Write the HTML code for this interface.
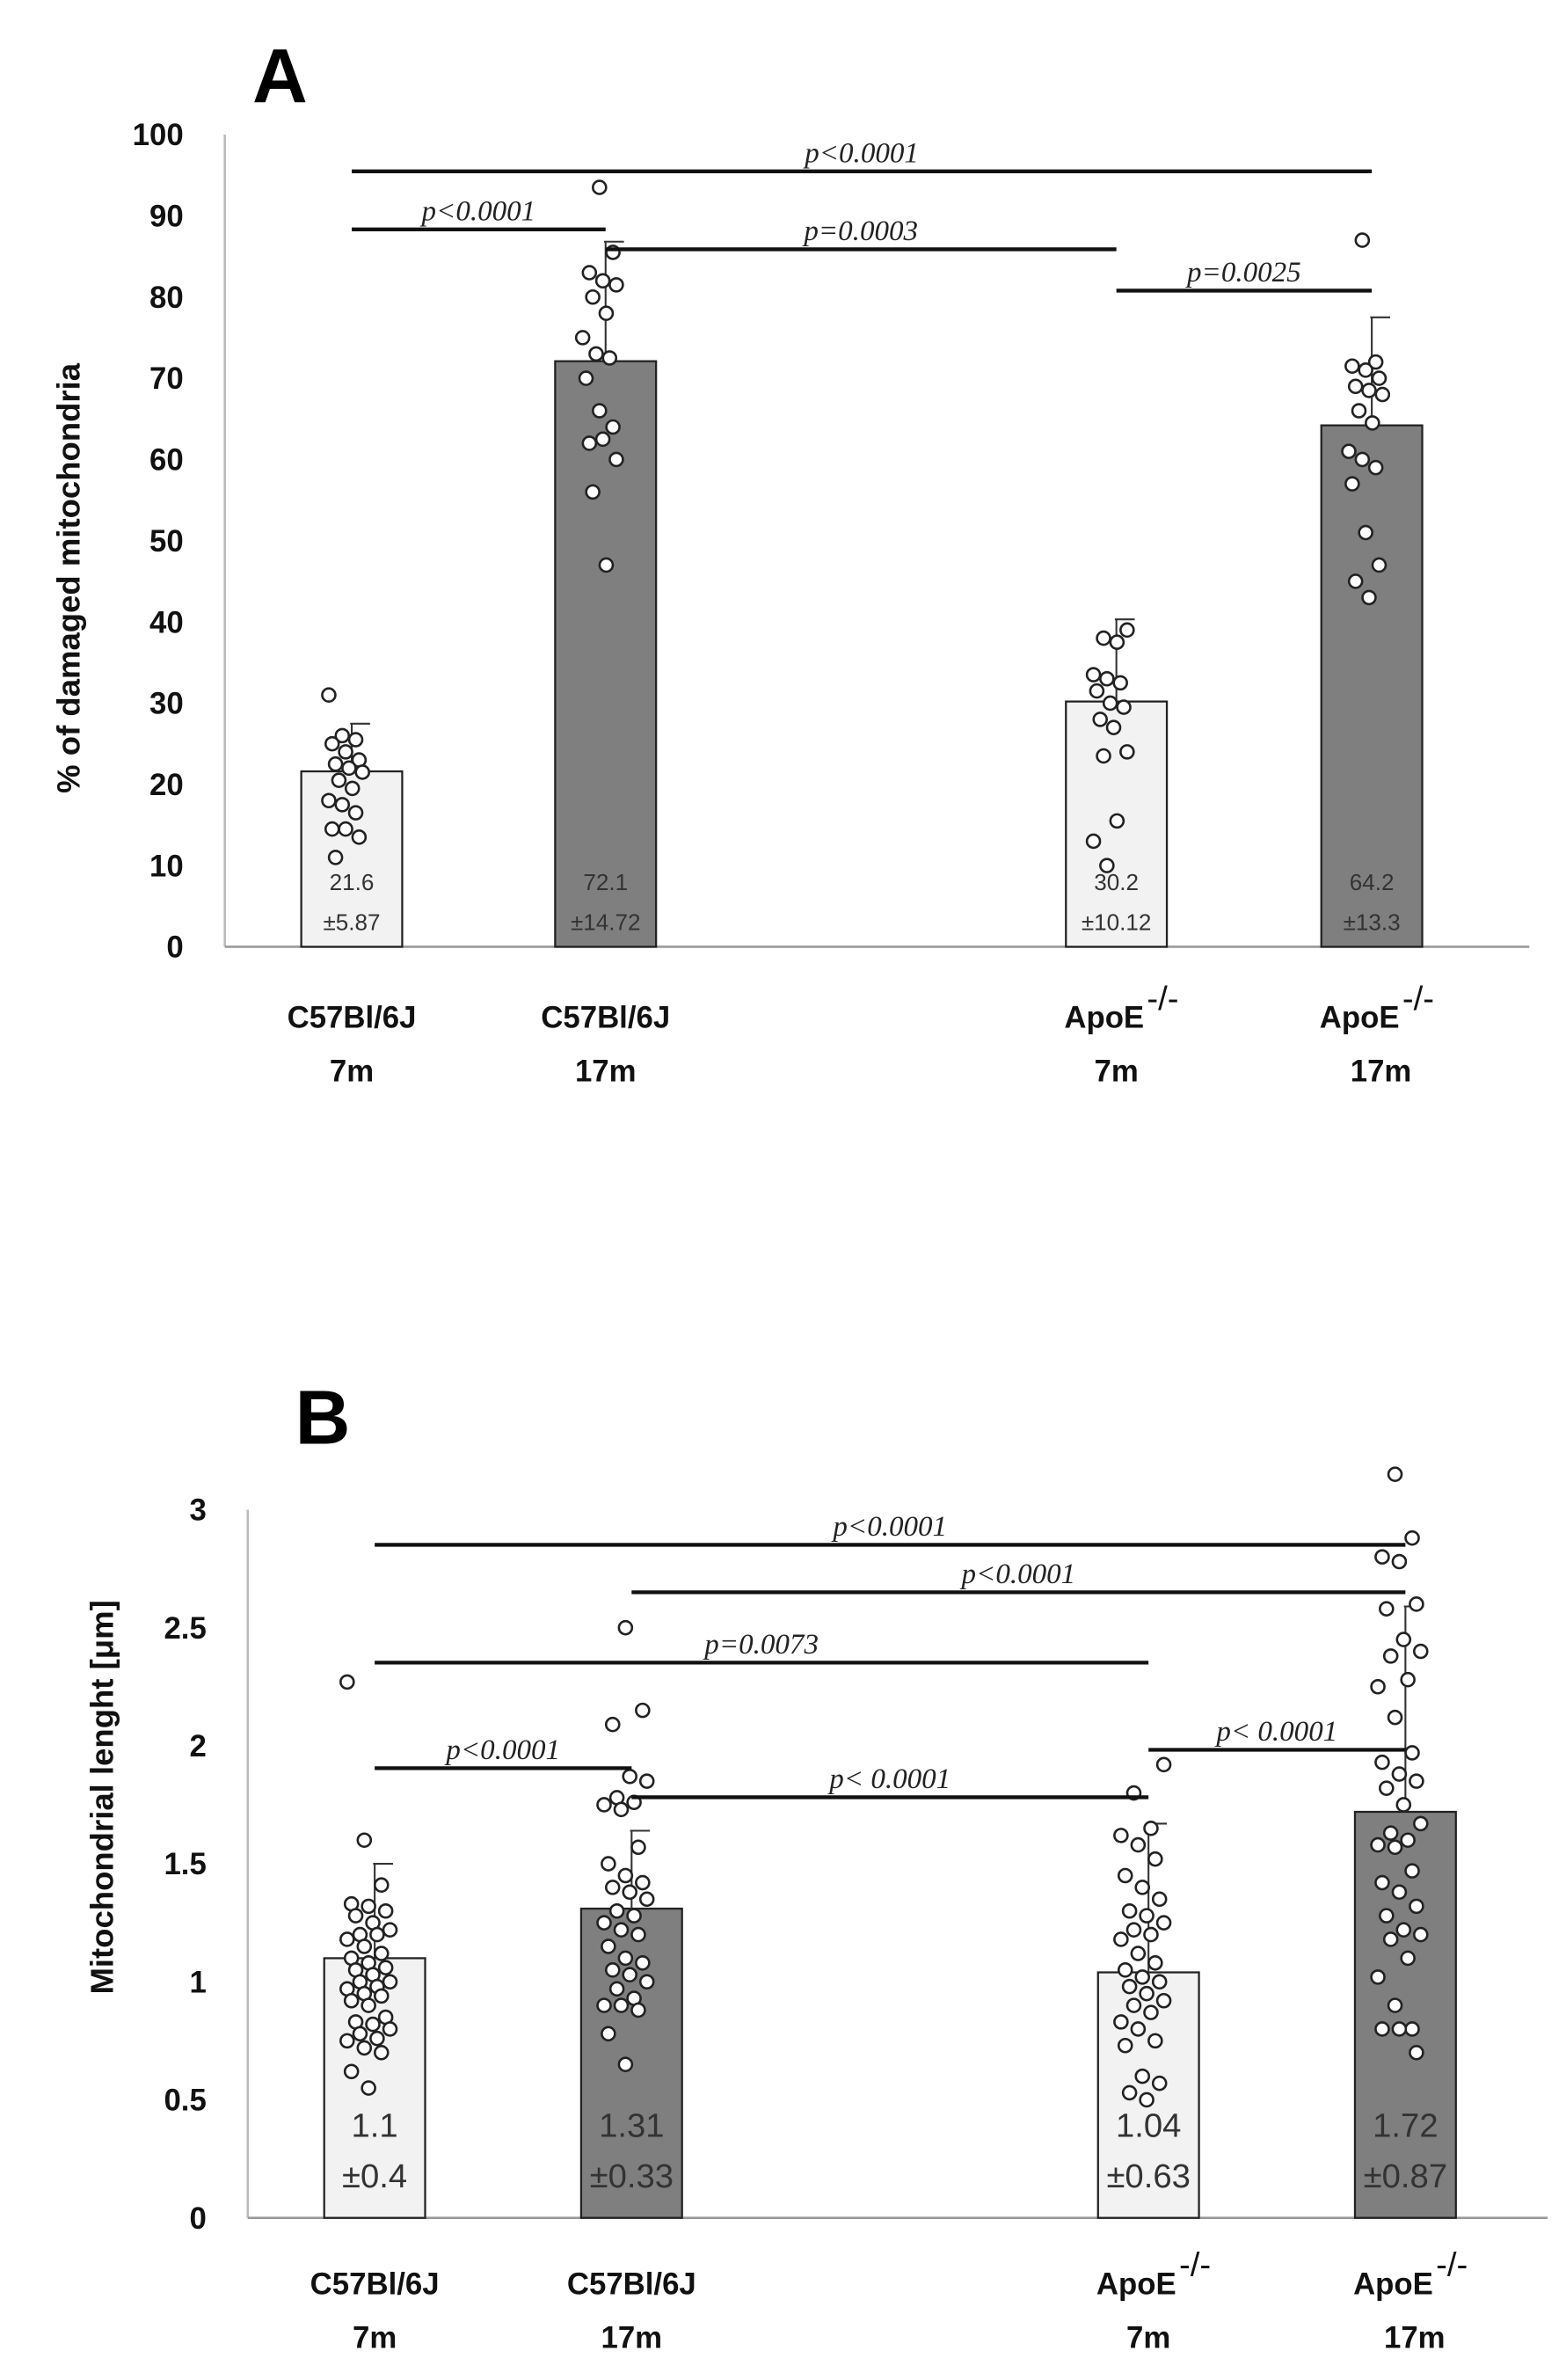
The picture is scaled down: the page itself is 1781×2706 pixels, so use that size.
<!DOCTYPE html>
<html><head><meta charset="utf-8"><style>
html,body{margin:0;padding:0;background:#fff;}
svg{display:block;}
text{font-family:"Liberation Sans",sans-serif;}
text.pv{font-family:"Liberation Serif",serif;}
</style></head><body>
<svg id="fig" width="1781" height="2706" viewBox="0 0 1024 1556" preserveAspectRatio="none" xmlns="http://www.w3.org/2000/svg">
<rect width="1024" height="1556" fill="#fff"/>
<text x="165" y="67" font-size="50" font-weight="900">A</text>
<text x="193" y="944" font-size="50" font-weight="900">B</text>
<g id="chartA"></g>
<g id="chartB"></g>
</svg>
<script>
const categories = ["C57Bl/6J|7m","C57Bl/6J|17m","ApoE|7m","ApoE|17m"];
const meansA = [21.6, 72.1, 30.2, 64.2];
const sdA = [5.87, 14.72, 10.12, 13.3];
const meanLabelsA = ["21.6","72.1","30.2","64.2"];
const sdLabelsA = ["±5.87","±14.72","±10.12","±13.3"];
const ticksA = [0,10,20,30,40,50,60,70,80,90,100];
const pointsA1 = [31,26,25.5,25,24,23,22.5,22,21.5,20.5,19.5,18,17.5,16.5,14.5,14.5,13.5,11];
const pointsA2 = [93.5,85.5,83,82,81.5,80,78,75,73,72.5,70,66,64,62,62.5,60,56,47];
const pointsA3 = [39,38,37.5,33.5,33,32.5,31.5,30,29.5,28,27,24,23.5,15.5,13,10];
const pointsA4 = [87,72,71.5,71,70,69,68.5,68,66,64.5,61,60,59,57,51,47,45,43];
const sigA = [["p<0.0001",0,3,112],["p<0.0001",0,1,150],["p=0.0003",1,2,163],["p=0.0025",2,3,190]];

const meansB = [1.1, 1.31, 1.04, 1.72];
const sdB = [0.4, 0.33, 0.63, 0.87];
const meanLabelsB = ["1.1","1.31","1.04","1.72"];
const sdLabelsB = ["±0.4","±0.33","±0.63","±0.87"];
const ticksB = [0,0.5,1,1.5,2,2.5,3];
const pointsB1 = [2.27,1.6,1.41,1.33,1.32,1.3,1.28,1.25,1.22,1.2,1.2,1.18,1.15,1.12,1.1,1.08,1.06,1.05,1.03,1.0,1.0,0.98,0.97,0.95,0.94,0.92,0.9,0.85,0.83,0.82,0.8,0.78,0.76,0.75,0.72,0.7,0.62,0.55];
const pointsB2 = [2.5,2.15,2.09,1.87,1.85,1.78,1.76,1.75,1.73,1.57,1.5,1.45,1.42,1.4,1.38,1.35,1.3,1.28,1.25,1.22,1.2,1.15,1.1,1.08,1.05,1.03,1.0,0.97,0.93,0.9,0.9,0.88,0.78,0.65];
const pointsB3 = [1.92,1.8,1.65,1.62,1.58,1.52,1.45,1.4,1.35,1.3,1.28,1.25,1.22,1.2,1.18,1.12,1.08,1.05,1.02,1.0,0.98,0.95,0.92,0.9,0.87,0.83,0.8,0.75,0.73,0.6,0.57,0.53,0.5];
const pointsB4 = [3.15,2.88,2.8,2.78,2.6,2.58,2.45,2.4,2.38,2.28,2.25,2.12,1.97,1.93,1.88,1.85,1.82,1.75,1.67,1.63,1.6,1.58,1.57,1.47,1.42,1.38,1.32,1.28,1.22,1.2,1.18,1.1,1.02,0.9,0.8,0.8,0.8,0.7];
const sigB = [["p<0.0001",0,3,1010],["p<0.0001",1,3,1041],["p=0.0073",0,2,1087],["p<0.0001",0,1,1156],["p< 0.0001",1,2,1175],["p< 0.0001",2,3,1144]];

const NS="http://www.w3.org/2000/svg";
function mk(parent,tag,attrs,txt){const e=document.createElementNS(NS,tag);for(const k in attrs)e.setAttribute(k,attrs[k]);if(txt!==undefined)e.textContent=txt;parent.appendChild(e);return e;}

function drawChart(g,cfg){
  const yS=v=>cfg.y0-(v-cfg.min)/(cfg.max-cfg.min)*(cfg.y0-cfg.yTop);
  const bw=66;
  let ax=mk(g,'line',{x1:cfg.axX,y1:cfg.yTop,x2:cfg.axX,y2:cfg.y0,stroke:'#bbb','stroke-width':1.5});
  
  
  let bx=mk(g,'line',{x1:cfg.axX,y1:cfg.y0,x2:cfg.axR,y2:cfg.y0,stroke:'#999','stroke-width':1.5});
  
  
  cfg.ticks.forEach(t=>{
    const tl=mk(g,'text',{x:cfg.axX-27,y:yS(t)+7,'text-anchor':'end','font-size':20,'font-weight':'bold',fill:'#111'},String(t));
    
    
  });
  const yt=mk(g,'text',{x:0,y:0,'text-anchor':'middle','font-size':21,'font-weight':'bold',fill:'#111',transform:`translate(${cfg.titleX},${cfg.titleY}) rotate(-90)`},cfg.title);
  
  
  const cx=i=>cfg.barX[i]+bw/2;
  cfg.means.forEach((m,i)=>{
    const dark=i%2===1;
    const r=mk(g,'rect',{x:cfg.barX[i],y:yS(m),width:bw,height:cfg.y0-yS(m),fill:dark?'#7f7f7f':'#f2f2f2',stroke:'#222','stroke-width':1.3});
    
    
    const top=yS(m+cfg.sd[i]);
    const e=mk(g,'path',{d:`M${cx(i)},${yS(m)}V${top}M${cx(i)-1},${top}H${cx(i)+12}`,stroke:'#333','stroke-width':1.2,fill:'none'});
    
    
    const pts=cfg.points[i];
    pts.forEach((v,j)=>{
      const off=(((j*37+i*5)%11)-5)*cfg.jit;
      const c=mk(g,'circle',{cx:cx(i)-4+off,cy:yS(v),r:4.3,fill:'#fff',stroke:'#222','stroke-width':1.5});
      
      
    });
    const t1=mk(g,'text',{x:cx(i),y:cfg.labY1,'text-anchor':'middle','font-size':cfg.valFs,fill:'#333'},cfg.meanLabels[i]);
    
    
    const t2=mk(g,'text',{x:cx(i),y:cfg.labY2,'text-anchor':'middle','font-size':cfg.valFs,fill:'#333'},cfg.sdLabels[i]);
    
    
    const parts=categories[i].split('|');
    const isApo=parts[0]==='ApoE';
    const xl=mk(g,'text',{x:cx(i)-(isApo?8:0),y:cfg.xLabY,'text-anchor':'middle','font-size':20,'font-weight':'bold',fill:'#111'},parts[0]);
    
    
    if(isApo){
      const sp=mk(g,'text',{x:cx(i)+20,y:cfg.xLabY-12,'font-size':22,fill:'#111'},'-/-');
      
      
    }
    const xl2=mk(g,'text',{x:cx(i)+(isApo&&i===3?6:0),y:cfg.xLabY+35,'text-anchor':'middle','font-size':20,'font-weight':'bold',fill:'#111'},parts[1]);
    
    
  });
  cfg.sig.forEach(s=>{
    const x1=cx(s[1]), x2=cx(s[2]);
    const l=mk(g,'line',{x1:x1,y1:s[3],x2:x2,y2:s[3],stroke:'#111','stroke-width':2.5});
    
    
    const t=mk(g,'text',{class:'pv',x:(x1+x2)/2,y:s[3]-6,'text-anchor':'middle','font-size':19,'font-style':'italic',fill:'#222'},s[0]);
    
    
  });
}
drawChart(document.getElementById('chartA'),{
  axX:147,axR:1000,y0:619,yTop:88,min:0,max:100,ticks:ticksA,means:meansA,sd:sdA,
  points:[pointsA1,pointsA2,pointsA3,pointsA4],barX:[197,363,697,864],jit:2.2,
  meanLabels:meanLabelsA,sdLabels:sdLabelsA,labY1:582,labY2:608,valFs:15,xLabY:672,
  title:"%  of damaged mitochondria",titleX:52,titleY:378,sig:sigA
});
drawChart(document.getElementById('chartB'),{
  axX:162,axR:1012,y0:1450,yTop:987,min:0,max:3,ticks:ticksB,means:meansB,sd:sdB,
  points:[pointsB1,pointsB2,pointsB3,pointsB4],barX:[212,380,718,886],jit:2.8,
  meanLabels:meanLabelsB,sdLabels:sdLabelsB,labY1:1397,labY2:1430,valFs:22,xLabY:1500,
  title:"Mitochondrial lenght  [μm]",titleX:74,titleY:1175,sig:sigB
});
</script>
</body></html>
